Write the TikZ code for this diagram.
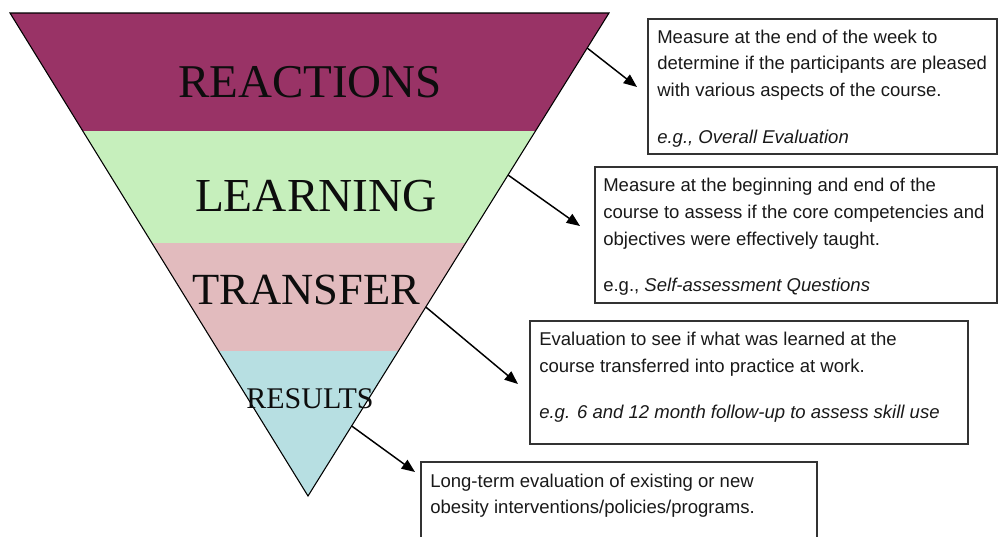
\documentclass[tikz,border=0pt]{standalone}
\usepackage{fontspec}
\setmainfont{Liberation Serif}
\newfontfamily\boxfont{Liberation Sans}
\usetikzlibrary{arrows.meta,calc,fit}
\definecolor{cReact}{RGB}{153,51,102}
\definecolor{cLearn}{RGB}{198,239,188}
\definecolor{cTrans}{RGB}{226,187,190}
\definecolor{cRes}{RGB}{183,223,226}
\begin{document}
\begin{tikzpicture}[x=0.75pt,y=-0.75pt,
  descbox/.style={draw=black!80, line width=1.3pt, inner sep=0pt},
  desctext/.style={anchor=base west, inner sep=0pt, font=\boxfont\fontsize{13.9}{16}\selectfont, text=black!90},
  lvl/.style={inner sep=0pt, anchor=center, text=black!95},
  arr/.style={line width=1.1pt, -{Triangle[length=10pt,width=8pt]}}
]
\useasboundingbox (0,0) rectangle (998,536);
\coordinate (tl) at (10,13);
\coordinate (trc) at (609,13);
\coordinate (apex) at (308,496);
\begin{scope}
\clip (tl) -- (trc) -- (apex) -- cycle;
\fill[cReact] (0,0) rectangle (620,131);
\fill[cLearn] (0,131) rectangle (620,243);
\fill[cTrans] (0,243) rectangle (620,350.5);
\fill[cRes] (0,350.5) rectangle (620,500);
\end{scope}
\draw[line width=0.8pt] (tl) -- (trc) -- (apex) -- cycle;

\node[lvl, font=\fontsize{35.25}{40}\selectfont] (lReact) at (310,82) {REACTIONS};
\node[lvl, font=\fontsize{35.5}{40}\selectfont] (lLearn) at (316,196) {LEARNING};
\node[lvl, font=\fontsize{33.4}{40}\selectfont] (lTrans) at (306.5,290) {TRANSFER};
\node[lvl, font=\fontsize{22.5}{26}\selectfont] (lRes) at (310,399) {RESULTS};

% boxes
\node[descbox, fit={(648,19) (997,154)}] (b1) {};
\node[descbox, fit={(595,167) (997,303)}] (b2) {};
\node[descbox, fit={(530,321) (968,444)}] (b3) {};
\node[descbox, fit={(421,462) (817,545)}] (b4) {};

\node[desctext] (t1a) at (657,43) {Measure at the end of the week to};
\node[desctext] (t1b) at (657,69) {determine if the participants are pleased};
\node[desctext] (t1c) at (657,96) {with various aspects of the course.};
\node[desctext] (t1d) at (657,143) {\itshape e.g., Overall Evaluation};

\node[desctext] (t2a) at (603,191) {Measure at the beginning and end of the};
\node[desctext] (t2b) at (603,218) {course to assess if the core competencies and};
\node[desctext] (t2c) at (603,245) {objectives were effectively taught.};
\node[desctext] (t2d) at (603,291) {e.g., \itshape Self-assessment Questions};

\node[desctext] (t3a) at (539,345) {Evaluation to see if what was learned at the};
\node[desctext] (t3b) at (539,372) {course transferred into practice at work.};
\node[desctext] (t3c) at (539,418) {\itshape e.g. 6 and 12 month follow-up to assess skill use};

\node[desctext] (t4a) at (430,487) {Long-term evaluation of existing or new};
\node[desctext] (t4b) at (430,513) {obesity interventions/policies/programs.};

% arrows
\coordinate (a1s) at ($(trc)!0.0725!(apex)$);
\coordinate (a2s) at ($(trc)!0.3354!(apex)$);
\coordinate (a3s) at ($(trc)!0.6087!(apex)$);
\coordinate (a4s) at ($(trc)!0.855!(apex)$);
\coordinate (a1e) at (637,87);
\coordinate (a2e) at (580,226);
\coordinate (a3e) at (518,384);
\coordinate (a4e) at (415,472);
\draw[arr] (a1s) -- (a1e);
\draw[arr] (a2s) -- (a2e);
\draw[arr] (a3s) -- (a3e);
\draw[arr] (a4s) -- (a4e);
\end{tikzpicture}
\end{document}
